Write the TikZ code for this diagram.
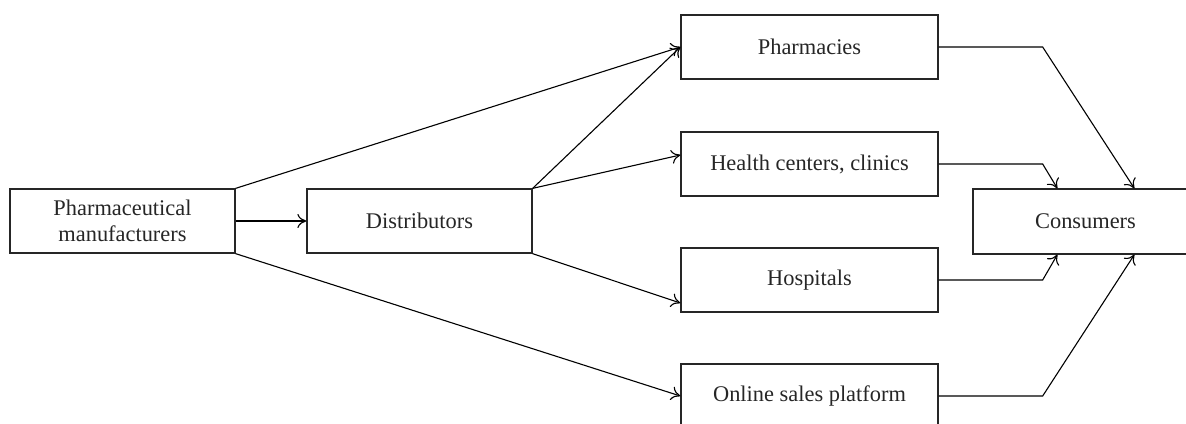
\documentclass[tikz,border=0pt]{standalone}
\usepackage{fontspec}
\setmainfont{Liberation Serif}
\usetikzlibrary{arrows.meta,calc}
\begin{document}
\begin{tikzpicture}[x=0.5pt,y=-0.5pt,
  box/.style={draw=black!85,line width=0.65pt,inner sep=0pt,align=center,
    font=\fontsize{11.2}{13.2}\selectfont,text=black!85},
  srcbox/.style={box,minimum width=112.5pt,minimum height=32pt},
  chbox/.style={box,minimum width=128.5pt,minimum height=32pt},
  flow/.style={draw=black,line width=0.55pt,-{To[length=4.5pt,width=7pt]}}]
  \useasboundingbox (0,0) rectangle (1186,423);
  \clip (0,0) rectangle (1186,423);

  % sources
  \node[srcbox] (man) at (122.5,221) {Pharmaceutical\\manufacturers};
  \node[srcbox] (dis) at (419.5,221) {Distributors};

  % channels
  \node[chbox] (pha) at (809.5,47)  {Pharmacies};
  \node[chbox] (hea) at (809.5,164) {Health centers, clinics};
  \node[chbox] (hos) at (809.5,280) {Hospitals};
  \node[chbox] (onl) at (809.5,396) {Online sales platform};

  % end point
  \node[srcbox,minimum height=32.5pt] (con) at (1085.5,221.5) {Consumers};

  % manufacturers out
  \draw[flow] (man.north east) -- (pha.west);
  \draw[flow] (man.east) -- (dis.west);
  \draw[flow] (man.south east) -- (onl.west);

  % distributors out
  \draw[flow] (dis.north east) -- (pha.west);
  \draw[flow] (dis.north east) -- ([yshift=4.5pt]hea.west);
  \draw[flow] (dis.south east) -- ([yshift=-11.5pt]hos.west);

  % channels to consumers
  \coordinate (cA) at ($(con.north west)+(42.5pt,0)$);
  \coordinate (cB) at ($(con.north west)+(81pt,0)$);
  \coordinate (cC) at ($(con.south west)+(42.5pt,0)$);
  \coordinate (cD) at ($(con.south west)+(81pt,0)$);
  \draw[flow] (pha.east) -- ++(52pt,0) -- (cB);
  \draw[flow] (hea.east) -- ++(52pt,0) -- (cA);
  \draw[flow] (hos.east) -- ++(52pt,0) -- (cC);
  \draw[flow] (onl.east) -- ++(52pt,0) -- (cD);
\end{tikzpicture}
\end{document}
